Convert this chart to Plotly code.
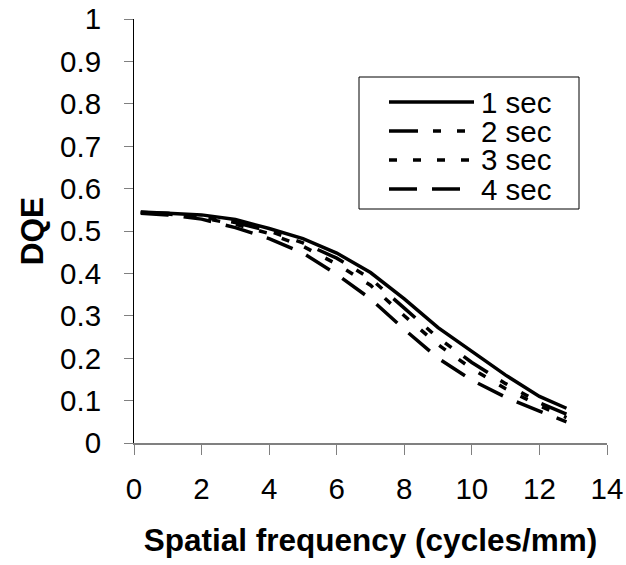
import plotly.graph_objects as go

freq = [0.2, 1, 2, 3, 4, 5, 6, 7, 8, 9, 10, 11, 12, 12.8]
dqe_1s = [0.543, 0.542, 0.538, 0.527, 0.506, 0.482, 0.448, 0.402, 0.340, 0.272, 0.216, 0.160, 0.110, 0.082]
dqe_2s = [0.545, 0.542, 0.533, 0.520, 0.500, 0.472, 0.436, 0.388, 0.318, 0.248, 0.190, 0.140, 0.095, 0.068]
dqe_3s = [0.544, 0.540, 0.531, 0.516, 0.494, 0.464, 0.422, 0.372, 0.300, 0.232, 0.175, 0.128, 0.088, 0.060]
dqe_4s = [0.542, 0.538, 0.528, 0.508, 0.482, 0.448, 0.398, 0.340, 0.268, 0.200, 0.148, 0.108, 0.075, 0.050]
series_names = ["1 sec", "2 sec", "3 sec", "4 sec"]
x_ticks = [0, 2, 4, 6, 8, 10, 12, 14]
y_ticks = [0, 0.1, 0.2, 0.3, 0.4, 0.5, 0.6, 0.7, 0.8, 0.9, 1]

dashes = ["solid", "29px,15px,8px,16px,8px,15px", "8px,16px", "28px,15px"]
series = [dqe_1s, dqe_2s, dqe_3s, dqe_4s]

FONT = "Liberation Sans, Arial, sans-serif"

fig = go.Figure()
for name, ys, d in zip(series_names, series, dashes):
    fig.add_trace(go.Scatter(x=freq, y=ys, mode="lines", name=name,
                             line=dict(color="black", width=3.5, dash=d),
                             showlegend=False))

# target pixel positions in the window
L = 134; R = 607; T = 19; B = 443
W = R - L; H = B - T
def px(v): return (v - L) / W
def py(v): return (B - v) / H

shapes = [dict(type="rect", xref="paper", yref="paper",
               x0=px(359), x1=px(579), y0=py(209), y1=py(77),
               line=dict(color="black", width=1), fillcolor="white", layer="above")]
annos = []
rows = [102, 131, 160, 189]
for name, d, r in zip(series_names, dashes, rows):
    shapes.append(dict(type="line", xref="paper", yref="paper",
                       x0=px(389), x1=px(474), y0=py(r), y1=py(r),
                       line=dict(color="black", width=3.5, dash=d), layer="above"))
    annos.append(dict(xref="paper", yref="paper", x=px(479), y=py(r),
                      text=name, showarrow=False, xanchor="left", yanchor="middle",
                      font=dict(family=FONT, size=29.5, color="black")))

fig.update_layout(
    width=626, height=565,
    margin=dict(l=L, r=626 - R, t=T, b=565 - B),
    paper_bgcolor="white", plot_bgcolor="white",
    font=dict(family=FONT, size=29.5, color="black"),
    shapes=shapes, annotations=annos,
)
fig.update_xaxes(range=[0, 14], tickvals=x_ticks, ticktext=[str(v) for v in x_ticks],
                 showgrid=False, zeroline=False, automargin=False,
                 ticklabeloverflow="allow",
                 showline=True, linecolor="#808080", linewidth=2,
                 ticks="outside", ticklen=10, tickcolor="#808080", tickwidth=1,
                 ticklabelstandoff=9,
                 tickfont=dict(family=FONT, size=29.5),
                 title=dict(text="<b>Spatial frequency (cycles/mm)</b>",
                            font=dict(family=FONT, size=31.5), standoff=25))
fig.update_yaxes(range=[0, 1], tickvals=y_ticks, ticktext=[("%g" % v) for v in y_ticks],
                 showgrid=False, zeroline=False, automargin=False,
                 ticklabeloverflow="allow",
                 showline=True, linecolor="black", linewidth=1,
                 ticks="outside", ticklen=9, tickcolor="#808080", tickwidth=1,
                 ticklabelstandoff=17,
                 tickfont=dict(family=FONT, size=29.5),
                 title=dict(text="<b>DQE</b>",
                            font=dict(family=FONT, size=31.5), standoff=7))

fig.write_html(
    "out.html",
    config={"displayModeBar": False},
    post_script="document.body.style.margin='0';document.body.style.overflow='hidden';",
)
